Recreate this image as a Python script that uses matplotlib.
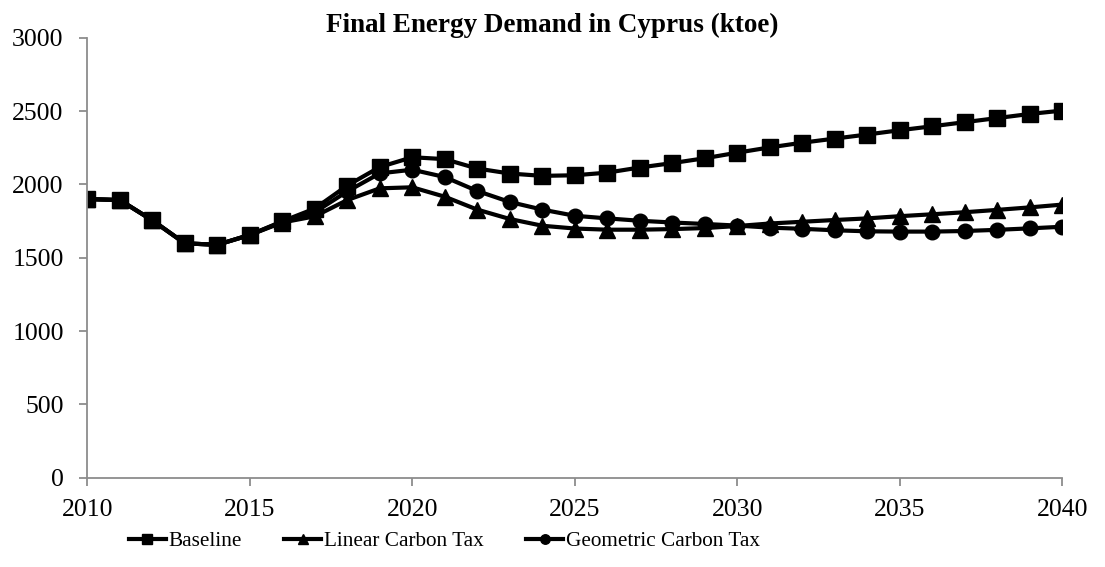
import matplotlib.pyplot as plt
from matplotlib.ticker import MultipleLocator

years = list(range(2010, 2041))

baseline = [1900, 1893, 1755, 1598, 1588, 1655, 1748, 1835, 1992, 2118,
            2185, 2172, 2108, 2074, 2058, 2062, 2080, 2115, 2145, 2178,
            2216, 2252, 2284, 2312, 2340, 2369, 2396, 2424, 2452, 2480, 2503]
linear = [1900, 1893, 1755, 1598, 1588, 1655, 1740, 1782, 1893, 1973,
          1980, 1916, 1828, 1764, 1718, 1699, 1691, 1691, 1695, 1702,
          1716, 1733, 1745, 1757, 1768, 1783, 1796, 1810, 1826, 1843, 1862]
geometric = [1900, 1893, 1755, 1598, 1588, 1655, 1745, 1810, 1952, 2075,
             2100, 2050, 1955, 1880, 1828, 1786, 1768, 1752, 1740, 1730,
             1719, 1705, 1697, 1687, 1680, 1678, 1678, 1682, 1690, 1700, 1711]

plt.rcParams['font.family'] = 'Liberation Serif'

fig = plt.figure(figsize=(11.05, 5.67), dpi=100)
ax = fig.add_axes([0.079, 0.1575, 0.8822, 0.776])

ax.plot(years, baseline, color='black', lw=3, marker='s', markersize=11, label='Baseline')
ax.plot(years, linear, color='black', lw=3, marker='^', markersize=11.5, label='Linear Carbon Tax')
ax.plot(years, geometric, color='black', lw=3, marker='o', markersize=10.5, label='Geometric Carbon Tax')

ax.set_xlim(2010, 2040)
ax.set_ylim(0, 3000)
ax.xaxis.set_major_locator(MultipleLocator(5))
ax.yaxis.set_major_locator(MultipleLocator(500))

for side in ['top', 'right']:
    ax.spines[side].set_visible(False)
for side in ['left', 'bottom']:
    ax.spines[side].set_color('#8c8c8c')
    ax.spines[side].set_linewidth(1.3)

ax.tick_params(axis='both', colors='#8c8c8c', labelcolor='black', labelsize=18.5,
               length=6, width=1.3, direction='out')
ax.tick_params(axis='y', pad=11)
ax.tick_params(axis='x', pad=9)

fig.text(0.5, 0.978, 'Final Energy Demand in Cyprus (ktoe)', ha='center', va='top',
         fontsize=19.5, fontweight='bold')

fig.legend(loc='center', bbox_to_anchor=(0.402, 0.045), ncol=3, frameon=False,
           fontsize=15.3, handlelength=1.75, handletextpad=0.12, columnspacing=2.0,
           markerscale=0.65)

fig.savefig('out.png', dpi=100)
